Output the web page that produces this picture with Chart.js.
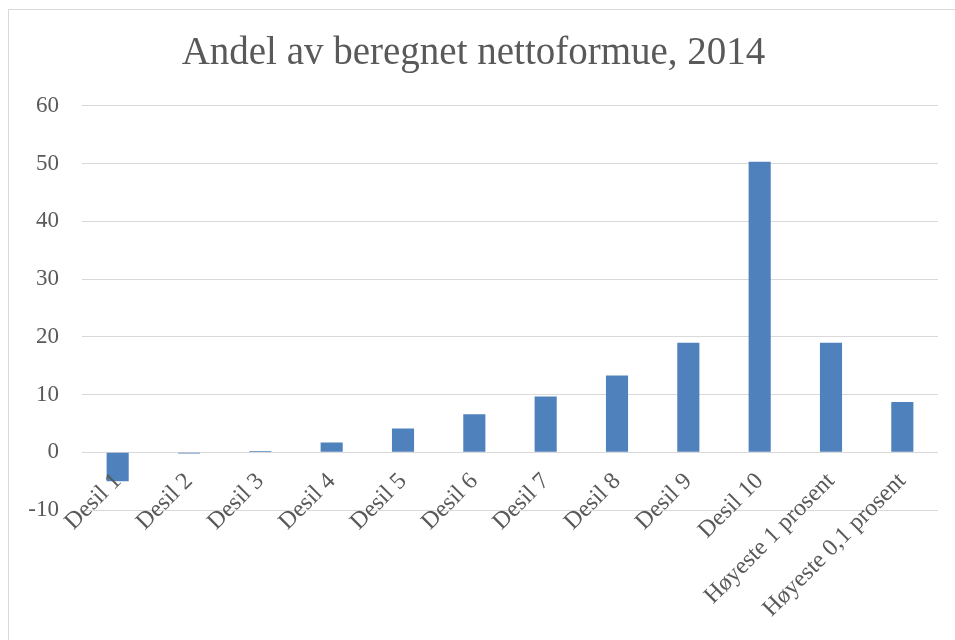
<!DOCTYPE html>
<html lang="no">
<head>
    <meta charset="UTF-8">
    <title>Andel av beregnet nettoformue, 2014</title>
    <script src="https://cdn.jsdelivr.net/npm/chart.js"></script>
    <style>
        body { margin: 0; background: #fff; overflow: hidden; }
        #frame {
            position: absolute; left: 8px; top: 9px;
            width: 1000px; height: 700px;
            border: 1px solid #d9d9d9;
        }
        #wrap { position: absolute; left: 0; top: 0; width: 946px; height: 630px; }
    </style>
</head>
<body>
    <div id="frame"><div id="wrap"><canvas id="chart"></canvas></div></div>

    <script>
        const categories = ['Desil 1', 'Desil 2', 'Desil 3', 'Desil 4', 'Desil 5', 'Desil 6',
            'Desil 7', 'Desil 8', 'Desil 9', 'Desil 10', 'Høyeste 1 prosent', 'Høyeste 0,1 prosent'];
        const andel = [-5.0, -0.2, 0.2, 1.7, 4.1, 6.6, 9.65, 13.3, 18.95, 50.3, 18.95, 8.7];
        const yMin = -10, yMax = 60, yStep = 10;

        const textColor = '#595959';
        const fontFamily = '"Liberation Serif", "DejaVu Serif", serif';

        new Chart(document.getElementById('chart'), {
            type: 'bar',
            data: {
                labels: categories,
                datasets: [{
                    data: andel,
                    backgroundColor: '#4f81bd',
                    borderWidth: 0,
                    barPercentage: 0.31,
                    categoryPercentage: 1
                }]
            },
            options: {
                responsive: true,
                maintainAspectRatio: false,
                animation: false,
                layout: { padding: { left: 0, right: 17, top: 0, bottom: 130 } },
                plugins: {
                    legend: { display: false },
                    tooltip: { enabled: false },
                    title: {
                        display: true,
                        text: 'Andel av beregnet nettoformue, 2014',
                        color: textColor,
                        font: { family: fontFamily, size: 39, weight: 'normal' },
                        padding: { top: 20, bottom: 29 }
                    }
                },
                scales: {
                    x: {
                        position: { y: 0 },
                        grid: { display: false },
                        border: { display: false },
                        ticks: {
                            z: 1,   // labels over the bars, like the original
                            color: textColor,
                            font: { family: fontFamily, size: 24 },
                            minRotation: 45,
                            maxRotation: 45,
                            autoSkip: false,
                            padding: 7
                        }
                    },
                    y: {
                        min: yMin,
                        max: yMax,
                        grid: { color: '#d9d9d9', drawTicks: false },
                        border: { display: false },
                        ticks: {
                            stepSize: yStep,
                            color: textColor,
                            font: { family: fontFamily, size: 23 },
                            padding: 23
                        },
                        afterFit: (scale) => { scale.width = 73; }
                    }
                }
            }
        });
    </script>
</body>
</html>
